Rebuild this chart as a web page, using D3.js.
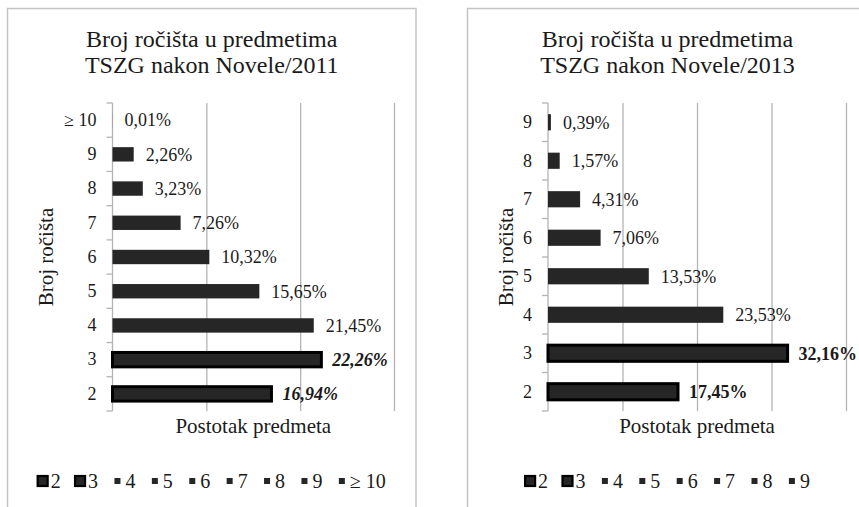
<!DOCTYPE html>
<html>
<head>
<meta charset="utf-8">
<script src="https://cdn.jsdelivr.net/npm/d3@7"></script>
<style>
  html, body { margin: 0; padding: 0; background: #fff; }
  svg { display: block; }
</style>
</head>
<body>
<script>
// Data (rows listed top to bottom, as in the picture)
const categories2011 = ["\u2265 10", "9", "8", "7", "6", "5", "4", "3", "2"];
const values2011 = [0.01, 2.26, 3.23, 7.26, 10.32, 15.65, 21.45, 22.26, 16.94];
const categories2013 = ["9", "8", "7", "6", "5", "4", "3", "2"];
const values2013 = [0.39, 1.57, 4.31, 7.06, 13.53, 23.53, 32.16, 17.45];
const highlighted = ["2", "3"];
const xTicks2011 = [0, 10, 20, 30];
const xTicks2013 = [0, 10, 20, 30, 40];

const font = "'Liberation Serif', 'Times New Roman', serif";
const ink = "#1a1a1a";
const fmt = v => d3.format(".2f")(v).replace(".", ",") + "%";

const svg = d3.select("body").append("svg")
    .attr("width", 859)
    .attr("height", 507);

function drawChart(opts) {
    const { box, plot, categories, values, ticks, title, labelStyle } = opts;
    const data = categories.map((c, i) => ({ cat: c, value: values[i] }));

    const g = svg.append("g");

    // Chart border
    g.append("rect")
        .attr("x", box.x).attr("y", box.y)
        .attr("width", box.w).attr("height", box.h)
        .attr("fill", "none")
        .attr("stroke", "#c4c4c4")
        .attr("stroke-width", 1.5);

    const x = d3.scaleLinear()
        .domain([0, d3.max(ticks)])
        .range([plot.left, plot.right]);

    const y = d3.scaleBand()
        .domain(categories)
        .range([plot.top, plot.bottom]);

    // Gridlines
    g.append("g")
        .attr("transform", `translate(0,${plot.bottom})`)
        .call(d3.axisBottom(x).tickValues(ticks.slice(1)).tickSize(-(plot.bottom - plot.top)).tickFormat(""))
        .call(a => a.select(".domain").remove())
        .call(a => a.selectAll(".tick line").attr("stroke", "#b4b4b4").attr("stroke-width", 1.3));

    // Y axis line + boundary ticks
    g.append("line")
        .attr("x1", plot.left).attr("x2", plot.left)
        .attr("y1", plot.top).attr("y2", plot.bottom)
        .attr("stroke", "#b4b4b4").attr("stroke-width", 1.3);
    const bounds = categories.map(c => y(c)).concat([plot.bottom]);
    g.selectAll(".btick")
        .data(bounds)
        .join("line")
        .attr("x1", plot.left - 6).attr("x2", plot.left)
        .attr("y1", d => d).attr("y2", d => d)
        .attr("stroke", "#b4b4b4").attr("stroke-width", 1.3);

    // Category labels
    g.append("g")
        .attr("transform", `translate(${plot.left - 16},0)`)
        .call(d3.axisLeft(y).tickSize(0).tickPadding(0))
        .call(a => a.select(".domain").remove())
        .call(a => a.selectAll("text")
            .attr("font-family", font)
            .attr("font-size", 18)
            .attr("fill", ink));

    // Bars
    const bh = y.bandwidth() * 0.42;
    g.selectAll(".bar")
        .data(data)
        .join("rect")
        .attr("x", x(0))
        .attr("y", d => y(d.cat) + (y.bandwidth() - bh) / 2)
        .attr("width", d => x(d.value) - x(0))
        .attr("height", bh)
        .attr("fill", "#262626")
        .attr("stroke", d => highlighted.includes(d.cat) ? "#000" : "none")
        .attr("stroke-width", d => highlighted.includes(d.cat) ? 3 : 0);

    // Value labels
    g.selectAll(".val")
        .data(data)
        .join("text")
        .attr("x", d => x(d.value) + (highlighted.includes(d.cat) ? 11 : 12))
        .attr("y", d => y(d.cat) + y.bandwidth() / 2)
        .attr("dy", "0.35em")
        .attr("font-family", font)
        .attr("font-size", 18)
        .attr("fill", ink)
        .attr("font-weight", d => highlighted.includes(d.cat) ? "bold" : "normal")
        .attr("font-style", d => highlighted.includes(d.cat) ? labelStyle : "normal")
        .text(d => fmt(d.value));

    // Title
    const cx = box.x + box.w / 2;
    g.append("text")
        .attr("x", cx).attr("y", 47)
        .attr("text-anchor", "middle")
        .attr("font-family", font).attr("font-size", 24).attr("fill", ink)
        .text(title[0]);
    g.append("text")
        .attr("x", cx).attr("y", 72.5)
        .attr("text-anchor", "middle")
        .attr("font-family", font).attr("font-size", 24).attr("fill", ink)
        .text(title[1]);

    // Axis titles
    g.append("text")
        .attr("x", (plot.left + plot.right) / 2).attr("y", 433)
        .attr("text-anchor", "middle")
        .attr("font-family", font).attr("font-size", 21).attr("fill", ink)
        .text("Postotak predmeta");
    g.append("text")
        .attr("transform", `translate(${box.x + 45},${(plot.top + plot.bottom) / 2}) rotate(-90)`)
        .attr("text-anchor", "middle")
        .attr("font-family", font).attr("font-size", 21).attr("fill", ink)
        .text("Broj ročišta");

    // Legend (order 2, 3, 4, ...)
    const legendCats = categories.slice().reverse();
    const lg = g.append("g");
    const item = lg.selectAll(".item")
        .data(legendCats)
        .join("g")
        .attr("transform", (d, i) => `translate(${i * 37.4},0)`);
    item.append("rect")
        .attr("x", d => highlighted.includes(d) ? -5 : -3)
        .attr("y", d => highlighted.includes(d) ? -5 : -3)
        .attr("width", d => highlighted.includes(d) ? 10 : 6)
        .attr("height", d => highlighted.includes(d) ? 10 : 6)
        .attr("fill", "#262626")
        .attr("stroke", d => highlighted.includes(d) ? "#000" : "none")
        .attr("stroke-width", 2.2);
    item.append("text")
        .attr("x", 8)
        .attr("dy", "0.35em")
        .attr("font-family", font).attr("font-size", 20).attr("fill", ink)
        .text(d => d);
    const bb = lg.node().getBBox();
    lg.attr("transform", `translate(${cx - (bb.x + bb.width / 2)},481)`);
}

drawChart({
    box: { x: 7.5, y: 8.5, w: 408.5, h: 520 },
    plot: { left: 112.5, right: 394, top: 103, bottom: 411 },
    categories: categories2011,
    values: values2011,
    ticks: xTicks2011,
    title: ["Broj ročišta u predmetima", "TSZG nakon Novele/2011"],
    labelStyle: "italic"
});

drawChart({
    box: { x: 467.5, y: 8.5, w: 400, h: 520 },
    plot: { left: 548, right: 846, top: 103, bottom: 411 },
    categories: categories2013,
    values: values2013,
    ticks: xTicks2013,
    title: ["Broj ročišta u predmetima", "TSZG nakon Novele/2013"],
    labelStyle: "normal"
});
</script>
</body>
</html>
